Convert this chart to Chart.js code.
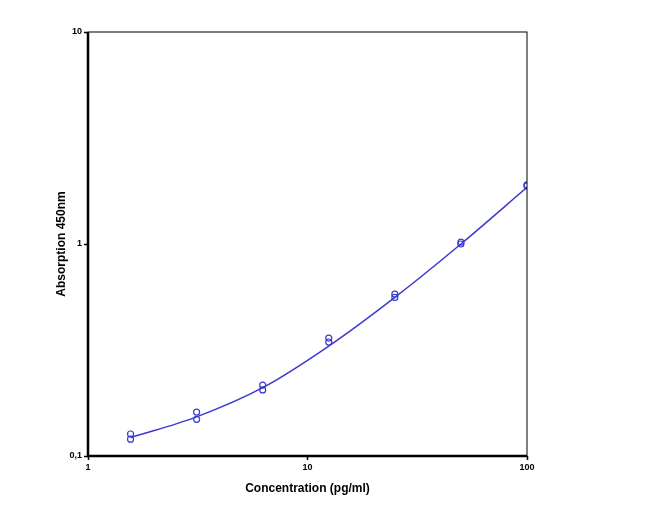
<!DOCTYPE html>
<html>
<head>
<meta charset="utf-8">
<script src="https://cdn.jsdelivr.net/npm/chart.js@4"></script>
<style>
  body { margin: 0; background: #fff; }
  #wrap { width: 650px; height: 518px; }
</style>
</head>
<body>
<div id="wrap"><canvas id="curve"></canvas></div>
<script>
// --- data ---
const concentrations = [1.5625, 3.125, 6.25, 12.5, 25, 50, 100];
const replicateA = [0.127, 0.161, 0.216, 0.36, 0.58, 1.02, 1.9];
const replicateB = [0.12, 0.149, 0.205, 0.345, 0.56, 1.0, 1.88];
const fitX = [1.5625, 3.125, 6.25, 12.5, 25, 50, 100];
const fitY = [0.122, 0.153, 0.21, 0.33, 0.56, 1.0, 1.85];
const xTicks = [1, 10, 100];
const yTicks = [0.1, 1, 10];
const yTickLabels = ['0,1', '1', '10'];

const blue = '#3a3ad0';

const pts = (ys) => concentrations.map((x, i) => ({ x: x, y: ys[i] }));

const frame = {
    id: 'frame',
    afterDraw(chart) {
        const a = chart.chartArea;
        const ctx = chart.ctx;
        ctx.save();
        ctx.strokeStyle = '#000';
        ctx.lineWidth = 1;
        ctx.strokeRect(a.left, a.top, a.right - a.left, a.bottom - a.top);
        ctx.lineWidth = 2.5;
        ctx.beginPath();
        ctx.moveTo(a.left, a.top);
        ctx.lineTo(a.left, a.bottom);
        ctx.lineTo(a.right, a.bottom);
        ctx.stroke();
        ctx.restore();
    }
};

const axisGrid = { display: true, drawOnChartArea: false, drawTicks: true, tickLength: 4, tickColor: '#000', tickWidth: 1.5 };

new Chart(document.getElementById('curve'), {
    type: 'scatter',
    data: {
        datasets: [
            {
                type: 'line',
                data: fitX.map((x, i) => ({ x: x, y: fitY[i] })),
                borderColor: blue,
                borderWidth: 1.5,
                pointRadius: 0,
                cubicInterpolationMode: 'monotone',
                fill: false
            },
            {
                data: pts(replicateA),
                borderColor: blue,
                backgroundColor: 'transparent',
                borderWidth: 1.2,
                pointRadius: 3
            },
            {
                data: pts(replicateB),
                borderColor: blue,
                backgroundColor: 'transparent',
                borderWidth: 1.2,
                pointRadius: 3
            }
        ]
    },
    options: {
        responsive: true,
        maintainAspectRatio: false,
        animation: false,
        layout: { padding: { top: 32, right: 123, left: 50, bottom: 18 } },
        plugins: { legend: { display: false }, tooltip: { enabled: false } },
        scales: {
            x: {
                type: 'logarithmic',
                min: 1,
                max: 100,
                afterBuildTicks: (s) => { s.ticks = xTicks.map(v => ({ value: v })); },
                afterFit: (s) => { s.height = 44; },
                ticks: {
                    color: '#000',
                    font: { family: 'Liberation Sans', size: 9, weight: 'bold' },
                    callback: (v) => String(v),
                    maxRotation: 0,
                    padding: 2
                },
                grid: axisGrid,
                border: { display: false },
                title: {
                    display: true,
                    text: 'Concentration (pg/ml)',
                    color: '#000',
                    font: { family: 'Liberation Sans', size: 12, weight: 'bold' },
                    padding: { top: 4 }
                }
            },
            y: {
                type: 'logarithmic',
                min: 0.1,
                max: 10,
                afterBuildTicks: (s) => { s.ticks = yTicks.map(v => ({ value: v })); },
                afterFit: (s) => { s.width = 38; },
                ticks: {
                    color: '#000',
                    font: { family: 'Liberation Sans', size: 9, weight: 'bold' },
                    callback: (v) => yTickLabels[yTicks.indexOf(v)] ?? '',
                    padding: 2
                },
                grid: axisGrid,
                border: { display: false },
                title: {
                    display: true,
                    text: 'Absorption 450nm',
                    color: '#000',
                    font: { family: 'Liberation Sans', size: 12, weight: 'bold' },
                    padding: { bottom: 4 }
                }
            }
        }
    },
    plugins: [frame]
});
</script>
</body>
</html>
